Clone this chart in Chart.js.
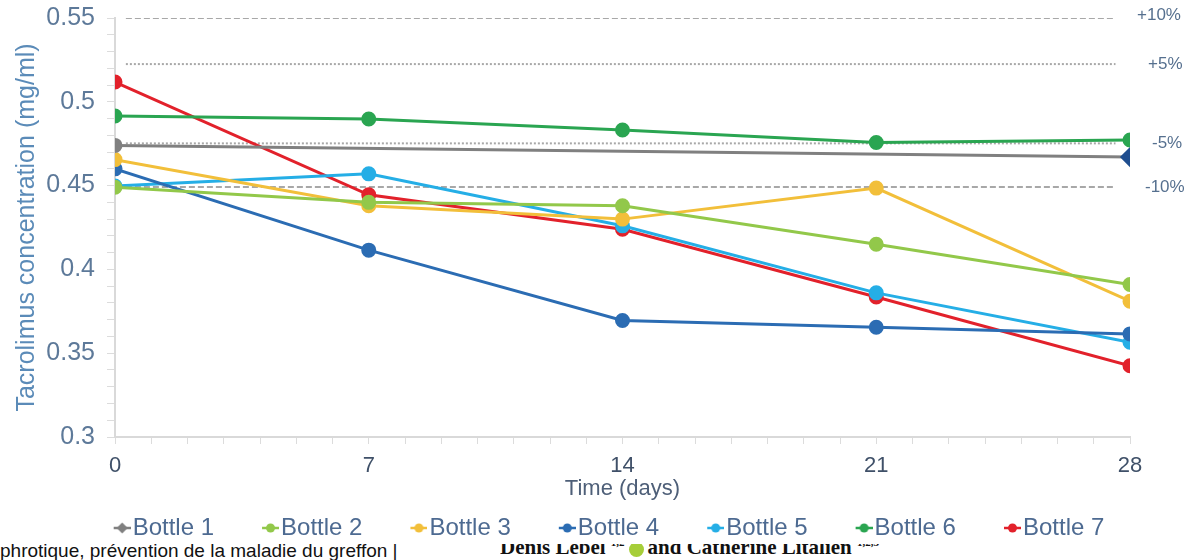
<!DOCTYPE html>
<html lang="en">
<head>
    <meta charset="UTF-8" />
    <title>Tacrolimus stability</title>
    <script src="https://cdn.jsdelivr.net/npm/chart.js"></script>
    <style>
        html, body {
          margin: 0;
          padding: 0;
          background: white;
          overflow: hidden;
          width: 1184px;
          height: 560px;
        }

        #wrap {
          position: relative;
          width: 1184px;
          height: 560px;
        }

        canvas {
          position: absolute;
          left: 0;
          top: 0;
        }

        .clip {
          position: absolute;
          overflow: hidden;
          white-space: nowrap;
          color: #111;
        }

        .clip span.inner {
          position: absolute;
          left: 0;
        }

        .orcid {
          display: inline-block;
          width: 15px;
          height: 15px;
          border-radius: 50%;
          background: #a6ce39;
          vertical-align: middle;
          margin: 0 4px;
        }
    </style>
</head>
<body>

<div id="wrap">
    <div class="clip" style="left:0; top:541px; width:420px; height:19px; font:19px 'Liberation Sans', Arial, sans-serif;">
        <span class="inner" style="top:-1px;">phrotique, prévention de la maladie du greffon |</span>
    </div>
    <div class="clip" style="left:500px; top:544px; width:460px; height:16px; font:bold 21px 'Liberation Serif', serif;">
        <span class="inner" style="top:-9px;">Denis Lebel <sup style="font-size:11px">1,2</sup><span class="orcid"></span>and Catherine Litalien <sup style="font-size:11px">1,2,3</sup></span>
    </div>
    <canvas id="stabilityChart" width="1184" height="560"></canvas>
</div>

<script>
    // measured concentrations (mg/ml) per sampling day
    const days = [0, 7, 14, 21, 28];
    const bottle1 = [0.474, null, null, null, 0.467];
    const bottle2 = [0.449, 0.440, 0.438, 0.415, 0.391];
    const bottle3 = [0.4655, 0.438, 0.430, 0.4485, 0.381];
    const bottle4 = [0.460, 0.4115, 0.3695, 0.3655, 0.3615];
    const bottle5 = [0.4497, 0.457, 0.426, 0.386, 0.3565];
    const bottle6 = [0.4915, 0.4897, 0.4832, 0.4757, 0.4772];
    const bottle7 = [0.5118, 0.4445, 0.424, 0.3835, 0.3425];

    const bottleNames = ['Bottle 1', 'Bottle 2', 'Bottle 3', 'Bottle 4', 'Bottle 5', 'Bottle 6', 'Bottle 7'];
    const bottleColors = ['#808080', '#92c84a', '#f2bf3a', '#2b6cb3', '#25aee6', '#2aa551', '#e2212b'];

    // acceptance limits around the nominal concentration
    const limitLabels = ['+10%', '+5%', '-5%', '-10%'];
    const limitValues = [0.55, 0.5225, 0.4752, 0.4492];

    const FONT = '"Liberation Sans", Arial, sans-serif';
    Chart.defaults.font.family = FONT;

    function makeIcon(color, diamond) {
      const c = document.createElement('canvas');
      c.width = 61;
      c.height = 14;
      const g = c.getContext('2d');
      g.strokeStyle = color;
      g.lineWidth = 2.5;
      g.beginPath();
      g.moveTo(44, 7);
      g.lineTo(61, 7);
      g.stroke();
      g.fillStyle = color;
      g.beginPath();
      if (diamond) {
        g.moveTo(52.5, 1.5); g.lineTo(58, 7); g.lineTo(52.5, 12.5); g.lineTo(47, 7);
        g.closePath();
      } else {
        g.arc(52.5, 7, 4.5, 0, Math.PI * 2);
      }
      g.fill();
      return c;
    }

    const series = [bottle1, bottle2, bottle3, bottle4, bottle5, bottle6, bottle7];

    const datasets = series.map((vals, i) => {
      const ds = {
        label: bottleNames[i],
        data: days.map((d, j) => ({ x: d, y: vals[j] })),
        borderColor: bottleColors[i],
        backgroundColor: bottleColors[i],
        pointBackgroundColor: bottleColors[i],
        pointBorderColor: bottleColors[i],
        borderWidth: 3,
        pointRadius: 6,
        pointHoverRadius: 6,
        spanGaps: true,
        legendIcon: makeIcon(bottleColors[i], i === 0)
      };
      if (i === 0) {
        ds.pointStyle = ['circle', 'circle', 'circle', 'circle', 'rectRot'];
        ds.pointRadius = [6, 0, 0, 0, 8];
        ds.pointBackgroundColor = ['#808080', '#808080', '#808080', '#808080', '#1f4e8f'];
        ds.pointBorderColor = ['#808080', '#808080', '#808080', '#808080', '#1f4e8f'];
      }
      return ds;
    });

    limitValues.forEach((v, i) => {
      datasets.push({
        label: limitLabels[i],
        isLimit: true,
        data: [{ x: 0.3, y: v }, { x: 27.6, y: v }],
        borderColor: '#a8a8a8',
        borderWidth: 2,
        borderDash: (i === 0 || i === 3) ? [6, 3] : [2, 2],
        pointRadius: 0
      });
    });

    // prints the limit names to the right of the plot
    const limitText = {
      id: 'limitText',
      afterDraw(chart) {
        const ctx = chart.ctx;
        const y = chart.scales.y;
        const right = chart.chartArea.right;
        const dx = [7, 18, 22, 15];
        ctx.save();
        ctx.font = '17px ' + FONT;
        ctx.fillStyle = '#56708f';
        ctx.textBaseline = 'middle';
        ctx.textAlign = 'left';
        limitLabels.forEach((t, i) => {
          let py = y.getPixelForValue(limitValues[i]);
          if (i === 0) py -= 3;
          ctx.fillText(t, right + dx[i], py);
        });
        ctx.restore();
      }
    };

    const ctx = document.getElementById('stabilityChart').getContext('2d');

    new Chart(ctx, {
      type: 'line',
      data: { datasets: datasets },
      options: {
        responsive: false,
        animation: false,
        layout: { padding: { top: 18, right: 0, bottom: 10, left: 0 } },
        scales: {
          x: {
            type: 'linear',
            min: 0,
            max: 28,
            ticks: {
              stepSize: 1,
              autoSkip: false,
              maxRotation: 0,
              padding: 9,
              color: '#3f5068',
              font: { size: 22 },
              callback: v => (v % 7 === 0 ? String(v) : '')
            },
            grid: { drawOnChartArea: false, color: '#dcdcdc', tickLength: 7 },
            border: { color: '#d9d9d9', width: 2 },
            title: {
              display: true,
              text: 'Time (days)',
              color: '#4e5f78',
              font: { size: 22 },
              padding: { top: 0, bottom: 0 }
            },
            afterFit: s => { s.height = 65; s.paddingLeft = 0; s.paddingRight = 0; }
          },
          y: {
            min: 0.3,
            max: 0.55,
            ticks: {
              stepSize: 0.01,
              autoSkip: false,
              padding: 12,
              color: '#5d7999',
              font: { size: 25 },
              callback: v => {
                const n = Math.round(v * 100);
                return n % 5 === 0 ? String(n / 100) : '';
              }
            },
            grid: { drawOnChartArea: false, color: '#dcdcdc', tickLength: 8 },
            border: { color: '#d9d9d9', width: 2 },
            title: {
              display: true,
              text: 'Tacrolimus concentration (mg/ml)',
              color: '#5b8bb8',
              font: { size: 25 },
              padding: { top: 12, bottom: 0 }
            },
            afterFit: s => { s.width = 115; s.paddingTop = 0; s.paddingBottom = 0; }
          },
          y2: {
            position: 'right',
            display: true,
            min: 0.3,
            max: 0.55,
            ticks: { display: false },
            grid: { display: false },
            border: { display: false },
            afterFit: s => { s.width = 54; s.paddingTop = 0; s.paddingBottom = 0; }
          }
        },
        plugins: {
          legend: {
            position: 'bottom',
            labels: {
              color: '#4d6a91',
              font: { size: 24 },
              usePointStyle: true,
              pointStyleWidth: 41,
              padding: 14,
              filter: item => item.datasetIndex < bottleNames.length,
              generateLabels: chart => {
                const items = Chart.defaults.plugins.legend.labels.generateLabels(chart);
                items.forEach(it => {
                  const ds = chart.data.datasets[it.datasetIndex];
                  if (ds.legendIcon) it.pointStyle = ds.legendIcon;
                });
                return items;
              }
            }
          },
          tooltip: { enabled: false }
        }
      },
      plugins: [limitText]
    });
</script>

</body>
</html>
